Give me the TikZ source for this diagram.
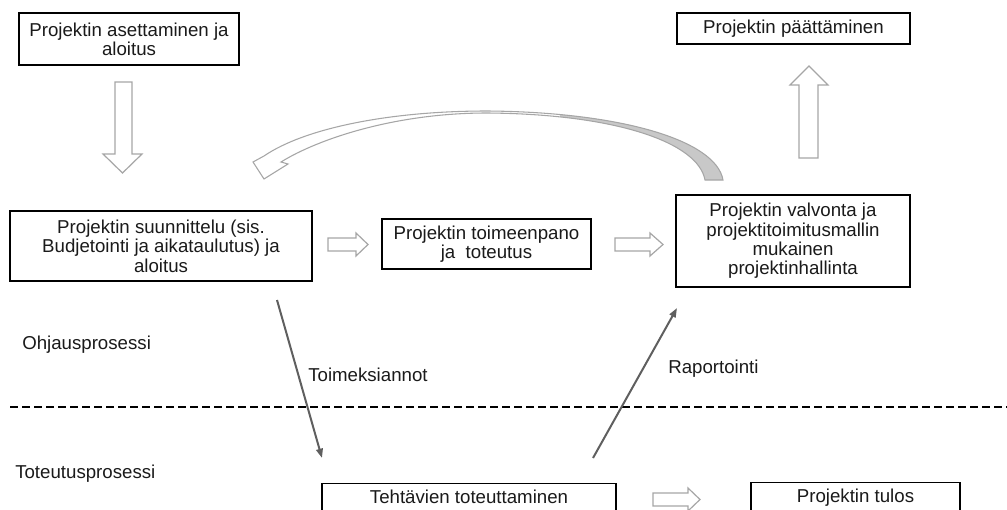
\documentclass[tikz,border=0pt]{standalone}
\usepackage{fontspec}
\setmainfont{Liberation Sans}
\usetikzlibrary{arrows.meta}
\definecolor{txt}{HTML}{1A1A1A}
\definecolor{blk}{HTML}{A6A6A6}
\definecolor{diag}{HTML}{5F5F5F}
\definecolor{curvefill}{HTML}{C8C8C8}
\begin{document}
\begin{tikzpicture}[x=0.75pt,y=-0.75pt, font=\fontsize{14}{14.5}\selectfont,
  box/.style={draw=black, line width=0.9pt, fill=white, align=center, inner sep=2pt, text=txt},
  lbl/.style={anchor=west, inner sep=0pt, text=txt},
  blockarrow/.style={draw=blk, line width=0.9pt, fill=white, line join=miter},
  flowline/.style={draw=diag, line width=1.5pt, -{Triangle[length=7pt,width=5pt]}}]
\useasboundingbox (0,0) rectangle (1007,510);
\clip (0,0) rectangle (1007,510);

% boxes
\node[box, minimum width=165pt, minimum height=39pt] (asetus) at (129,39) {Projektin asettaminen ja\\aloitus};
\node[box, minimum width=174.75pt, minimum height=23.25pt] (paatos) at (793.5,28.5) {Projektin päättäminen};
\node[box, minimum width=226.5pt, minimum height=52.5pt] (suunn) at (161,246) {Projektin suunnittelu (sis.\\Budjetointi ja aikataulutus) ja\\aloitus};
\node[box, minimum width=156.75pt, minimum height=37.5pt] (toim) at (486.5,244) {Projektin toimeenpano\\ja\ \ toteutus};
\node[box, minimum width=175.5pt, minimum height=69pt] (valv) at (793,241) {Projektin valvonta ja\\projektitoimitusmallin\\mukainen\\projektinhallinta};
\node[box, anchor=north, minimum width=220.5pt, inner ysep=3pt, text height=12pt, text depth=30pt] (teht) at (469,483) {Tehtävien toteuttaminen};
\node[box, anchor=north, minimum width=156.75pt, inner ysep=3pt, text height=12pt, text depth=30pt] (tulos) at (855.5,482) {Projektin tulos};

% labels
\node[lbl] (ohjaus) at (22,345) {Ohjausprosessi};
\node[lbl] (toteutus) at (15,474) {Toteutusprosessi};
\node[lbl] (toimeks) at (308,375) {Toimeksiannot};
\node[lbl] (raport) at (668,369) {Raportointi};

% dashed separator
\coordinate (sepL) at (10,407);
\coordinate (sepR) at (1007,407);
\draw[black, line width=1.8pt, dash pattern=on 6pt off 3pt] (sepL) -- (sepR);

% diagonal flow lines
\coordinate (tA) at (277,300);
\coordinate (tB) at (322,458);
\coordinate (rA) at (593,458);
\coordinate (rB) at (677,308);
\draw[flowline] (tA) -- (tB);
\draw[flowline] (rA) -- (rB);

% block arrows
\path[blockarrow] (115,82) -- (132,82) -- (132,154) -- (142,154) -- (122.5,173) -- (103,154) -- (115,154) -- cycle;
\path[blockarrow] (799,158) -- (818,158) -- (818,85) -- (828,85) -- (809,66) -- (790,85) -- (799,85) -- cycle;
\path[blockarrow] (328,238) -- (356,238) -- (356,233) -- (368,244.5) -- (356,256) -- (356,251) -- (328,251) -- cycle;
\path[blockarrow] (615,238) -- (650,238) -- (650,233) -- (663,244.5) -- (650,256) -- (650,251) -- (615,251) -- cycle;
\path[blockarrow] (653,493) -- (688,493) -- (688,488) -- (700,499.5) -- (688,511) -- (688,506) -- (653,506) -- cycle;

% curved return arrow
\path[fill=white] (723,180) .. controls (716,140) and (620,112) .. (487,111)
  .. controls (390,111) and (305,128) .. (264,156)
  -- (253,162) -- (264,179) -- (288,164) -- (281,162)
  .. controls (318,139) and (395,113) .. (487,113)
  .. controls (615,114) and (698,142) .. (705,180) -- cycle;
\begin{scope}
  \clip (560,95) rectangle (740,190);
  \fill[curvefill] (723,180) .. controls (716,140) and (620,112) .. (487,111)
  .. controls (390,111) and (305,128) .. (264,156)
  -- (253,162) -- (264,179) -- (288,164) -- (281,162)
  .. controls (318,139) and (395,113) .. (487,113)
  .. controls (615,114) and (698,142) .. (705,180) -- cycle;
\end{scope}
\draw[blk, line width=0.8pt, line join=miter] (723,180) .. controls (716,140) and (620,112) .. (487,111)
  .. controls (390,111) and (305,128) .. (264,156)
  -- (253,162) -- (264,179) -- (288,164) -- (281,162)
  .. controls (318,139) and (395,113) .. (487,113)
  .. controls (615,114) and (698,142) .. (705,180) -- cycle;
\end{tikzpicture}
\end{document}
